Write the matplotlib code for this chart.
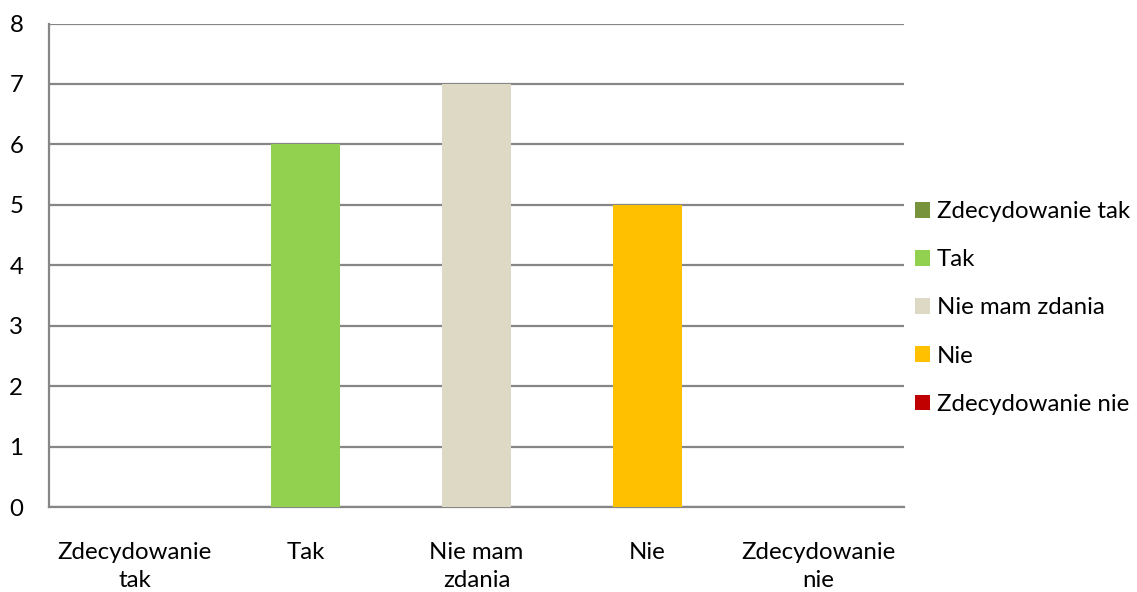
import matplotlib
matplotlib.use("Agg")
import matplotlib.pyplot as plt
from matplotlib.patches import Patch

categories = ["Zdecydowanie\ntak", "Tak", "Nie mam\nzdania", "Nie", "Zdecydowanie\nnie"]
series_names = ["Zdecydowanie tak", "Tak", "Nie mam zdania", "Nie", "Zdecydowanie nie"]
values = [0, 6, 7, 5, 0]
colors = ["#77933C", "#92D050", "#DDD9C4", "#FFC000", "#C00000"]
yticks = [0, 1, 2, 3, 4, 5, 6, 7, 8]

plt.rcParams['font.family'] = ['Lato', 'DejaVu Sans']
fs = 17.3

fig = plt.figure(figsize=(11.37, 5.92), dpi=100)
ax = fig.add_axes([49/1137, 1 - 507/592, (904-49)/1137, (507-23.5)/592])

x = list(range(len(categories)))
ax.bar(x, values, width=0.4, color=colors, zorder=3)
ax.set_xlim(-0.5, len(categories) - 0.5)
ax.set_ylim(0, 8)
ax.set_yticks(yticks)
ax.set_yticklabels([str(t) for t in yticks], fontsize=fs)
ax.set_xticks(x)
ax.set_xticklabels(categories, fontsize=fs, linespacing=1.38)
ax.tick_params(axis='y', length=0, pad=18.5)
ax.tick_params(axis='x', length=0, pad=25.5)
ax.grid(axis='y', color='#868686', linewidth=1.6, zorder=0)
for s in ['top', 'right']:
    ax.spines[s].set_visible(False)
for s in ['left', 'bottom']:
    ax.spines[s].set_color('#868686')
    ax.spines[s].set_linewidth(1.6)

handles = [Patch(facecolor=c, edgecolor='none') for c in colors]
fig.legend(handles, series_names, loc='center left', bbox_to_anchor=(915/1137, 1 - 308/592),
           frameon=False, fontsize=fs, handlelength=0.62, handleheight=0.62,
           handletextpad=0.3, labelspacing=1.13, borderaxespad=0, borderpad=0)

fig.savefig("out.png", dpi=100)
